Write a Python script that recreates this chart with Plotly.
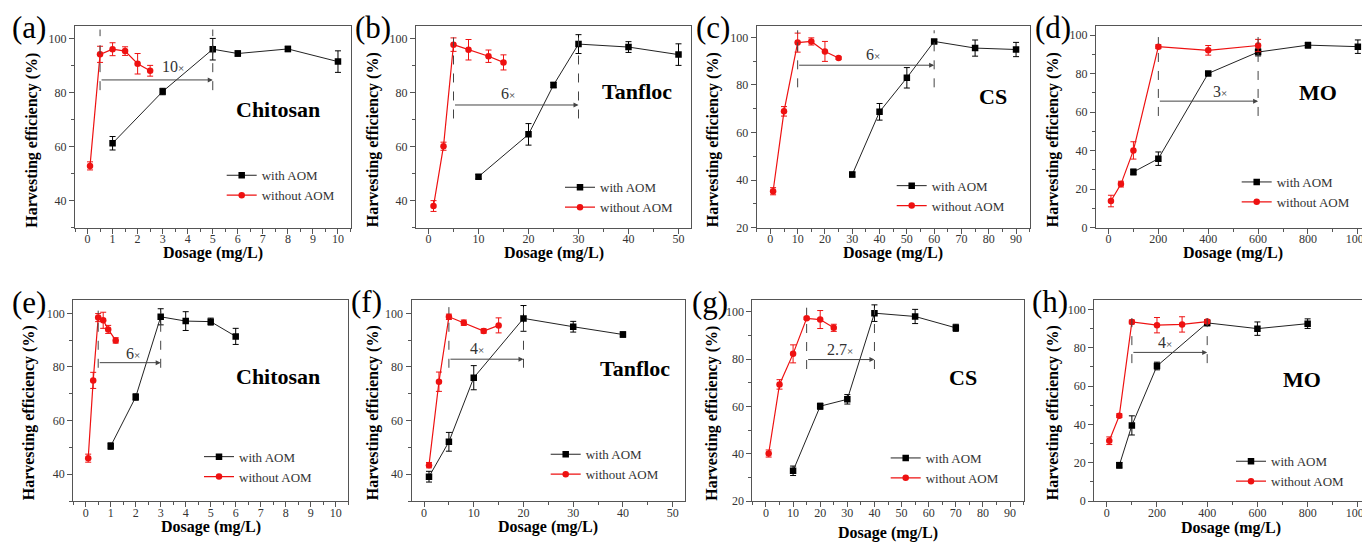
import plotly.graph_objects as go

# ---------------- data ----------------
letters = ["(a)", "(b)", "(c)", "(d)", "(e)", "(f)", "(g)", "(h)"]
materials = ["Chitosan", "Tanfloc", "CS", "MO", "Chitosan", "Tanfloc", "CS", "MO"]
series_names = ["with AOM", "without AOM"]

a_with_x = [1, 3, 5, 6, 8, 10]
a_with_y = [61.3, 80.5, 96.2, 94.6, 96.3, 91.6]
a_with_err = [2.5, 1.2, 4.0, 1.0, 1.0, 4.0]
a_without_x = [0.1, 0.5, 1, 1.5, 2, 2.5]
a_without_y = [52.9, 94.3, 96.2, 95.5, 90.8, 88.2]
a_without_err = [1.5, 3.0, 2.4, 1.6, 3.8, 2.0]

b_with_x = [10, 20, 25, 30, 40, 50]
b_with_y = [48.9, 64.6, 82.9, 98.1, 97.0, 94.2]
b_with_err = [0.8, 4.0, 1.0, 3.5, 2.0, 4.0]
b_without_x = [1, 3, 5, 8, 12, 15]
b_without_y = [38.0, 60.2, 97.9, 96.0, 93.6, 91.3]
b_without_err = [2.0, 1.5, 2.5, 3.8, 2.3, 2.8]

c_with_x = [30, 40, 50, 60, 75, 90]
c_with_y = [42.3, 68.7, 83.0, 98.3, 95.5, 94.9]
c_with_err = [1.0, 3.5, 4.3, 0.8, 3.4, 3.0]
c_without_x = [1, 5, 10, 15, 20, 25]
c_without_y = [35.3, 68.9, 97.8, 98.3, 94.1, 91.3]
c_without_err = [1.5, 2.0, 4.0, 1.5, 4.2, 0.5]

d_with_x = [100, 200, 400, 600, 800, 1000]
d_with_y = [28.9, 35.8, 80.1, 91.2, 94.8, 94.0]
d_with_err = [1.5, 3.5, 0.5, 2.0, 1.5, 3.5]
d_without_x = [10, 50, 100, 200, 400, 600]
d_without_y = [13.8, 22.6, 40.1, 94.0, 92.1, 94.6]
d_without_err = [3.0, 1.5, 4.5, 1.0, 2.5, 3.2]

e_with_x = [1, 2, 3, 4, 5, 6]
e_with_y = [50.5, 68.8, 98.7, 97.1, 96.9, 91.4]
e_with_err = [1.2, 1.2, 3.0, 3.5, 1.3, 3.0]
e_without_x = [0.1, 0.3, 0.5, 0.7, 0.9, 1.2]
e_without_y = [46.0, 75.0, 98.4, 97.4, 94.0, 89.9]
e_without_err = [1.5, 3.0, 1.5, 3.0, 1.5, 1.0]

f_with_x = [1, 5, 10, 20, 30, 40]
f_with_y = [39.1, 52.1, 76.0, 98.1, 95.0, 92.1]
f_with_err = [2.0, 3.5, 4.5, 4.8, 2.0, 1.0]
f_without_x = [1, 3, 5, 8, 12, 15]
f_without_y = [43.4, 74.5, 98.7, 96.5, 93.4, 95.5]
f_without_err = [1.0, 3.6, 1.0, 1.0, 0.8, 2.8]

g_with_x = [10, 20, 30, 40, 55, 70]
g_with_y = [32.8, 60.1, 63.0, 99.4, 98.0, 93.2]
g_with_err = [2.0, 1.3, 2.0, 3.5, 3.0, 1.5]
g_without_x = [1, 5, 10, 15, 20, 25]
g_without_y = [40.1, 69.3, 82.2, 97.2, 96.7, 93.2]
g_without_err = [1.5, 2.0, 3.8, 0.5, 3.8, 1.5]

h_with_x = [50, 100, 200, 400, 600, 800]
h_with_y = [18.7, 39.5, 70.5, 93.0, 90.0, 92.6]
h_with_err = [1.5, 5.0, 2.0, 1.5, 3.5, 2.5]
h_without_x = [10, 50, 100, 200, 300, 400]
h_without_y = [31.5, 44.6, 93.5, 91.8, 92.2, 93.7]
h_without_err = [2.0, 1.0, 1.0, 4.0, 4.0, 1.0]

# optimal dosages (without -> with) and fold labels
fold_from = [0.5, 5, 10, 200, 0.5, 5, 15, 100]
fold_to = [5, 30, 60, 600, 3, 20, 40, 400]
fold_labels = ["10", "6", "6", "3", "6", "4", "2.7", "4"]

with_x = [a_with_x, b_with_x, c_with_x, d_with_x, e_with_x, f_with_x, g_with_x, h_with_x]
with_y = [a_with_y, b_with_y, c_with_y, d_with_y, e_with_y, f_with_y, g_with_y, h_with_y]
with_err = [a_with_err, b_with_err, c_with_err, d_with_err, e_with_err, f_with_err, g_with_err, h_with_err]
without_x = [a_without_x, b_without_x, c_without_x, d_without_x, e_without_x, f_without_x, g_without_x, h_without_x]
without_y = [a_without_y, b_without_y, c_without_y, d_without_y, e_without_y, f_without_y, g_without_y, h_without_y]
without_err = [a_without_err, b_without_err, c_without_err, d_without_err, e_without_err, f_without_err, g_without_err, h_without_err]

# ---------------- layout geometry (pixels) ----------------
W, H = 1362, 542
def PX(x):
    return x / W
def PY(y):
    return 1 - y / H

x_dom_px = [(75, 350.5), (416, 691), (756.7, 1029.7), (1096, 1362),
            (73.2, 348.2), (411.6, 685.1), (752.4, 1023.6), (1094.2, 1362)]
y_dom_px = [(25.5, 227.6)] * 4 + [(299.9, 501.1)] * 4
x_ranges = [[-0.5, 10.5], [-2.5, 52.5], [-5, 95], [-50, 1016.6],
            [-0.5, 10.5], [-2.5, 52.5], [-5, 95], [-50, 1016.5]]
y_ranges = [[30, 105], [30, 105], [20, 105], [0, 105],
            [30, 105], [30, 105], [20, 105], [0, 105]]
x_dticks = [1, 10, 10, 200, 1, 10, 10, 200]
y_title_pos = [(31.7, 140), (373.3, 140), (713.3, 140), (1053.3, 140),
               (29.3, 413), (373.3, 413), (711.7, 413), (1053.3, 413)]
x_title_y = [253.3, 253.3, 253.3, 253.3, 527, 527, 533, 528]
letter_pos = [(29, 27.5), (373, 27.5), (712.5, 27.5), (1053, 27.5),
              (29, 302), (366.5, 301), (710, 302.7), (1050, 301)]
legend_pos = [(226.7, 172.3), (565, 184.3), (896.7, 182.7), (1241.7, 179),
              (204, 453.7), (550.7, 451.3), (890.7, 455), (1236, 458.3)]
# material label (data coords)
mat_pos = [(7.6, 73.7), (41.6, 80.4), (81.5, 75.2), (842, 70.4),
           (7.7, 76.3), (42.4, 79.4), (72.8, 72.3), (776, 63.4)]
# arrow y, fold label pos, dashed line extent (data coords)
arrow_y = [84.8, 75.5, 88.3, 65.7, 81.6, 82.9, 79.8, 77.6]
fold_text_pos = [(3.4, 89.6), (15.9, 79.8), (37.5, 92.8), (448, 70.6),
                 (1.88, 85.0), (10.6, 87.0), (27.3, 84.0), (233, 82.6)]
dash_ext = [(81, 103.5), (70.5, 101.5), (79, 103), (58, 99),
            (79.7, 101), (79.7, 102.3), (75.8, 101.7), (72, 99.7)]

FONT = "Liberation Serif"
AXC = "#555555"
TXT = "#333333"
RED = "#ee1111"
BLK = "#222222"

fig = go.Figure()
layout = dict(
    width=W, height=H, margin=dict(l=0, r=0, t=0, b=0, autoexpand=False),
    paper_bgcolor="white", plot_bgcolor="white",
    font=dict(family=FONT, color=TXT, size=12),
    showlegend=True,
)
annotations = []
shapes = []

for i in range(8):
    n = "" if i == 0 else str(i + 1)
    xa, ya = "x" + n, "y" + n
    leg = "legend" + n
    fig.add_trace(go.Scatter(
        x=with_x[i], y=with_y[i], name=series_names[0], mode="lines+markers",
        xaxis=xa, yaxis=ya, legend=leg,
        line=dict(color=BLK, width=1),
        marker=dict(symbol="square", size=6.5, color="black"),
        error_y=dict(type="data", array=with_err[i], visible=True,
                     color="black", thickness=1, width=3),
    ))
    fig.add_trace(go.Scatter(
        x=without_x[i], y=without_y[i], name=series_names[1], mode="lines+markers",
        xaxis=xa, yaxis=ya, legend=leg,
        line=dict(color=RED, width=1.2),
        marker=dict(symbol="circle", size=6.5, color=RED),
        error_y=dict(type="data", array=without_err[i], visible=True,
                     color=RED, thickness=1, width=3),
    ))
    x0, x1 = x_dom_px[i]
    y0, y1 = y_dom_px[i]
    edge = i in (3, 7)
    layout["xaxis" + n] = dict(
        domain=[PX(x0), PX(x1)], range=x_ranges[i], anchor=ya, automargin=False,
        showline=True, linecolor=AXC, linewidth=1.2, mirror=True,
        ticks="outside", ticklen=5, tickcolor=AXC, tickwidth=1,
        dtick=x_dticks[i], tick0=0, showgrid=False, zeroline=False,
        tickfont=dict(family=FONT, size=12, color=TXT),
        minor=dict(ticks="outside", ticklen=3, dtick=x_dticks[i] / 2, tickcolor=AXC, showgrid=False),
        ticklabeloverflow="allow", ticklabelstandoff=-5,
    )
    layout["yaxis" + n] = dict(
        domain=[PY(y1), PY(y0)], range=y_ranges[i], anchor=xa, automargin=False,
        showline=True, linecolor=AXC, linewidth=1.2, mirror=(not edge),
        ticks="outside", ticklen=5, tickcolor=AXC, tickwidth=1,
        dtick=20, tick0=0, showgrid=False, zeroline=False,
        tickfont=dict(family=FONT, size=12, color=TXT),
        minor=dict(ticks="outside", ticklen=3, dtick=10, tickcolor=AXC, showgrid=False),
    )
    lx, ly = legend_pos[i]
    layout[leg] = dict(
        x=PX(lx - 5), y=PY(ly - 12), xanchor="left", yanchor="top",
        bgcolor="rgba(0,0,0,0)", borderwidth=0,
        font=dict(family=FONT, size=13, color=TXT),
    )
    # axis titles
    tx, ty = y_title_pos[i]
    annotations.append(dict(
        xref="paper", yref="paper", x=PX(tx), y=PY(ty), text="<b>Harvesting efficiency (%)</b>",
        textangle=-90, showarrow=False, xanchor="center", yanchor="middle",
        font=dict(family=FONT, size=16, color="black")))
    annotations.append(dict(
        xref="paper", yref="paper", x=PX((x0 + (x1 if not edge else x0 + 274)) / 2), y=PY(x_title_y[i]),
        text="<b>Dosage (mg/L)</b>", showarrow=False, xanchor="center", yanchor="middle",
        font=dict(family=FONT, size=16, color="black")))
    # panel letter
    lpx, lpy = letter_pos[i]
    annotations.append(dict(
        xref="paper", yref="paper", x=PX(lpx), y=PY(lpy), text=letters[i],
        showarrow=False, xanchor="center", yanchor="middle",
        font=dict(family=FONT, size=31, color="black")))
    # material label
    mx, my = mat_pos[i]
    annotations.append(dict(
        xref=xa, yref=ya, x=mx, y=my, text="<b>" + materials[i] + "</b>",
        showarrow=False, xanchor="center", yanchor="middle",
        font=dict(family=FONT, size=22, color="black")))
    # dashed verticals
    dlo, dhi = dash_ext[i]
    for xv in (fold_from[i], fold_to[i]):
        shapes.append(dict(type="line", xref=xa, yref=ya, x0=xv, x1=xv, y0=dlo, y1=dhi,
                           line=dict(color="#444444", width=1, dash="dash")))
    # arrow
    annotations.append(dict(
        xref=xa, yref=ya, x=fold_to[i], y=arrow_y[i], axref=xa, ayref=ya,
        ax=fold_from[i], ay=arrow_y[i], showarrow=True, arrowhead=2, arrowsize=1,
        arrowwidth=1, arrowcolor="#444444", text=""))
    fx, fy = fold_text_pos[i]
    annotations.append(dict(
        xref=xa, yref=ya, x=fx, y=fy, showarrow=False, xanchor="center", yanchor="middle",
        text=fold_labels[i] + "<span style='font-size:11px'>×</span>",
        font=dict(family=FONT, size=16, color=TXT)))

layout["annotations"] = annotations
layout["shapes"] = shapes
fig.update_layout(**layout)
fig.write_html(
    "out.html",
    config={"displayModeBar": False},
    post_script="document.body.style.margin='0';document.body.style.overflow='hidden';",
)
